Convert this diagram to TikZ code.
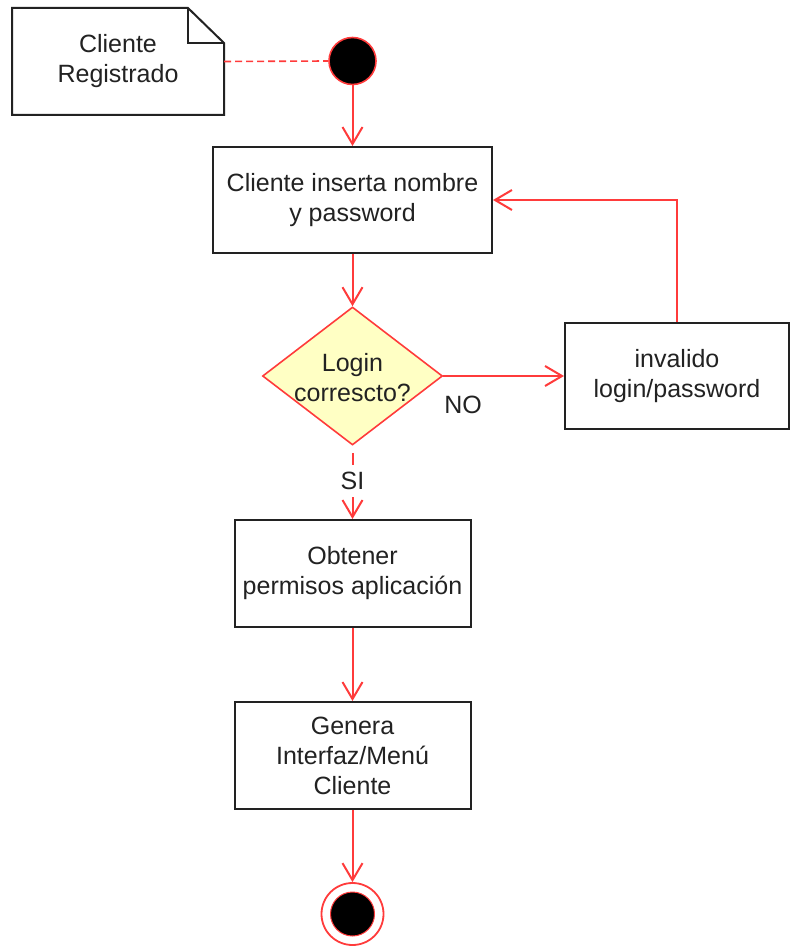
\documentclass[tikz,border=0pt]{standalone}
\usepackage{fontspec}
\setmainfont{Liberation Sans}
\usetikzlibrary{arrows.meta,shapes.geometric}
\definecolor{flow}{HTML}{FF3B3B}
\definecolor{ink}{HTML}{222222}
\definecolor{decision}{HTML}{FFFFC4}
\begin{document}
\begin{tikzpicture}[x=1pt,y=-1pt,
  every node/.style={font=\fontsize{25}{30}\selectfont, text=ink},
  action/.style={draw=ink, line width=2pt, fill=white, align=center, inner sep=0pt},
  flowline/.style={draw=flow, line width=2pt,
    -{Straight Barb[length=17pt,width=20pt,line width=2pt]}},
  notebox/.style={draw=ink, line width=2pt, fill=white, line join=miter},
  initial/.style={circle, fill=black, draw=flow, line width=1.6pt, minimum size=47pt, inner sep=0pt},
  final/.style={circle, draw=flow, line width=1.8pt, minimum size=62pt, inner sep=0pt},
]
\useasboundingbox (0,0) rectangle (790,949);

% note with folded corner
\draw[notebox] (12,8) -- (188,8) -- (224,43) -- (224,115) -- (12,115) -- cycle;
\draw[notebox, fill=none] (188,8) -- (188,43) -- (224,43);
\node[minimum width=212pt, minimum height=107pt, inner sep=0pt, align=center] (note) at (118,61.5) {Cliente\\Registrado};

% initial state
\node[initial] (start) at (352.5,61) {};
\draw[flow, line width=1.6pt, dash pattern=on 7pt off 4pt] (note.east) -- (start.west);

% activities
\node[action, minimum width=279pt, minimum height=106pt] (ask) at (352.5,200) {Cliente inserta nombre\\y password};
\node[diamond, draw=flow, fill=decision, line width=1.6pt, minimum width=180pt, minimum height=138pt, inner sep=0pt,
  label={[align=center, yshift=-2pt]center:Login\\correscto?}] (check) at (352.5,376) {};
\node[action, minimum width=224pt, minimum height=106pt] (invalid) at (677,376) {invalido\\login/password};
\node[action, minimum width=236pt, minimum height=107pt] (perm) at (352.5,573.5) {Obtener\\permisos aplicación};
\node[action, minimum width=236pt, minimum height=107pt] (menu) at (352.5,755.5) {Genera\\Interfaz/Menú\\Cliente};

% final state
\node[final] (end) at (352.5,914) {};
\fill[black, draw=flow, line width=1pt] (end.center) circle[radius=22pt];

% transitions
\draw[flowline] (start.south) -- (ask.north);
\draw[flowline] (ask.south) -- (check.north);
\draw[flowline] (check.east) -- node[pos=0.164, yshift=-29pt] (no) {NO} (invalid.west);
\draw[flowline] (invalid.north) |- (ask.east);
\draw[flowline, shorten <=7pt] (check.south) -- node[pos=0.48, fill=white, inner sep=1pt, minimum height=32pt] (si) {SI} (perm.north);
\draw[flowline] (perm.south) -- (menu.north);
\draw[flowline] (menu.south) -- (end.north);
\end{tikzpicture}
\end{document}
